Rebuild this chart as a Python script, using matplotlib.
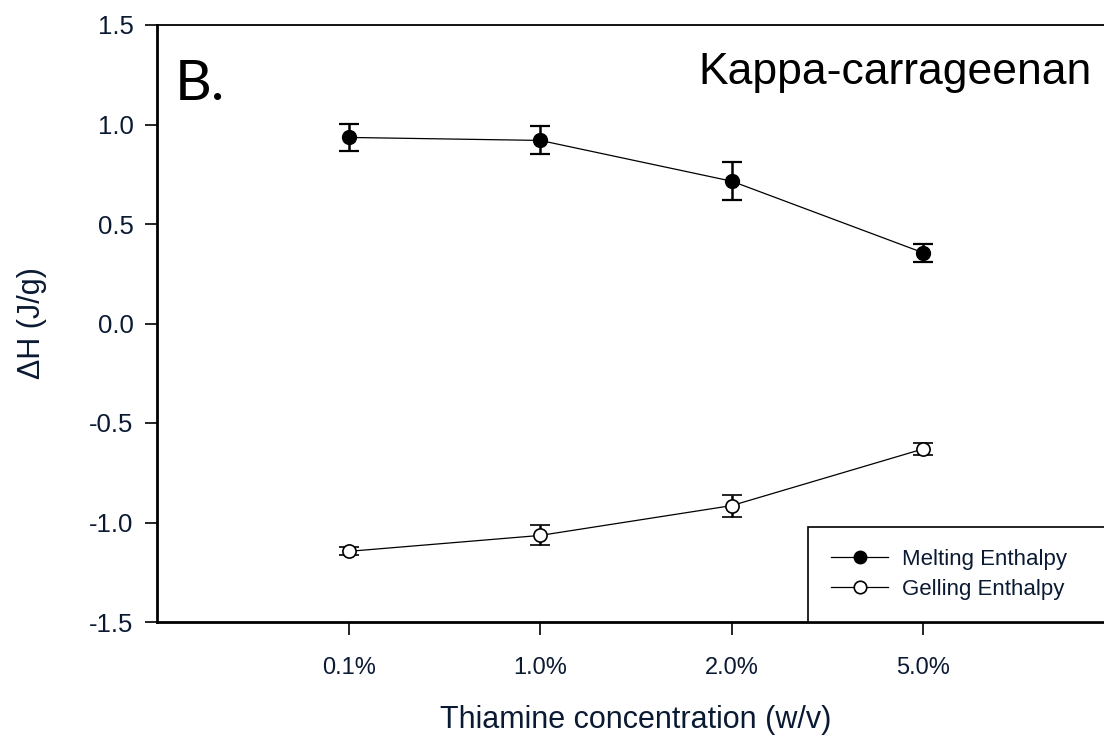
import matplotlib
matplotlib.use("Agg")
import matplotlib.pyplot as plt
from matplotlib.lines import Line2D

# concentrations on the x axis (categorical)
conc_labels = ['0.1%', '1.0%', '2.0%', '5.0%']
conc_pos = [1, 2, 3, 4]

# enthalpy values (J/g)
melting = [0.935, 0.92, 0.715, 0.355]
melting_err = [0.07, 0.07, 0.095, 0.045]
gelling = [-1.145, -1.065, -0.915, -0.63]
gelling_err = [0.02, 0.05, 0.055, 0.03]

plt.rcParams['font.family'] = ['Liberation Sans', 'DejaVu Sans']
txt_color = '#0b1a33'

fig = plt.figure(figsize=(11.04, 7.39), dpi=100)
ax = fig.add_axes([157 / 1104, 117 / 739, (1115 - 157) / 1104, (622 - 25) / 739])

ax.errorbar(conc_pos, melting, yerr=melting_err, color='black', marker='o',
            markersize=10, markerfacecolor='black', linewidth=0.9,
            elinewidth=1.8, capsize=7, capthick=1.6)
ax.errorbar(conc_pos, gelling, yerr=gelling_err, color='black', marker='o',
            markersize=9.5, markerfacecolor='white', markeredgewidth=1.2,
            linewidth=0.9, elinewidth=1.8, capsize=7, capthick=1.6)

ax.set_xlim(0, 5)
ax.set_ylim(-1.5, 1.5)
ax.set_xticks(conc_pos)
ax.set_xticklabels(conc_labels)
ax.set_yticks([-1.5, -1.0, -0.5, 0.0, 0.5, 1.0, 1.5])
ax.set_yticklabels(['-1.5', '-1.0', '-0.5', '0.0', '0.5', '1.0', '1.5'])

ax.tick_params(axis='both', direction='out', length=9, width=1.2,
               colors='black', labelcolor=txt_color)
ax.tick_params(axis='x', pad=16, labelsize=17)
ax.tick_params(axis='y', pad=8, labelsize=18.5)

ax.spines['left'].set_linewidth(2)
ax.spines['bottom'].set_linewidth(2)
ax.spines['top'].set_linewidth(1.3)
ax.spines['right'].set_visible(False)

ax.set_xlabel('Thiamine concentration (w/v)', fontsize=22, labelpad=19,
              color=txt_color)
ax.set_ylabel('ΔH (J/g)', fontsize=22, labelpad=30, color=txt_color)

fig.text(1092 / 1104, 1 - 84 / 739, 'Kappa-carrageenan', fontsize=32,
         ha='right', va='baseline')
fig.text(175 / 1104, 1 - 100 / 739, 'B.', fontsize=41, ha='left',
         va='baseline', family=['Lato', 'DejaVu Sans'])

handles = [
    Line2D([], [], color='black', linewidth=0.9, marker='o', markersize=9,
           markerfacecolor='black'),
    Line2D([], [], color='black', linewidth=0.9, marker='o', markersize=9,
           markerfacecolor='white', markeredgewidth=1.2),
]
leg = ax.legend(handles, ['Melting Enthalpy', 'Gelling Enthalpy'],
                loc='lower left', bbox_to_anchor=(0.68, 0.0, 0.4, 0.154),
                mode='expand', fontsize=16, frameon=True, fancybox=False,
                edgecolor='black', framealpha=1, handlelength=2.6,
                handletextpad=0.6, borderpad=1.0, labelspacing=0.4,
                borderaxespad=0)
leg.get_frame().set_linewidth(1.2)
for t in leg.get_texts():
    t.set_color(txt_color)

fig.savefig('out.png', dpi=100)
